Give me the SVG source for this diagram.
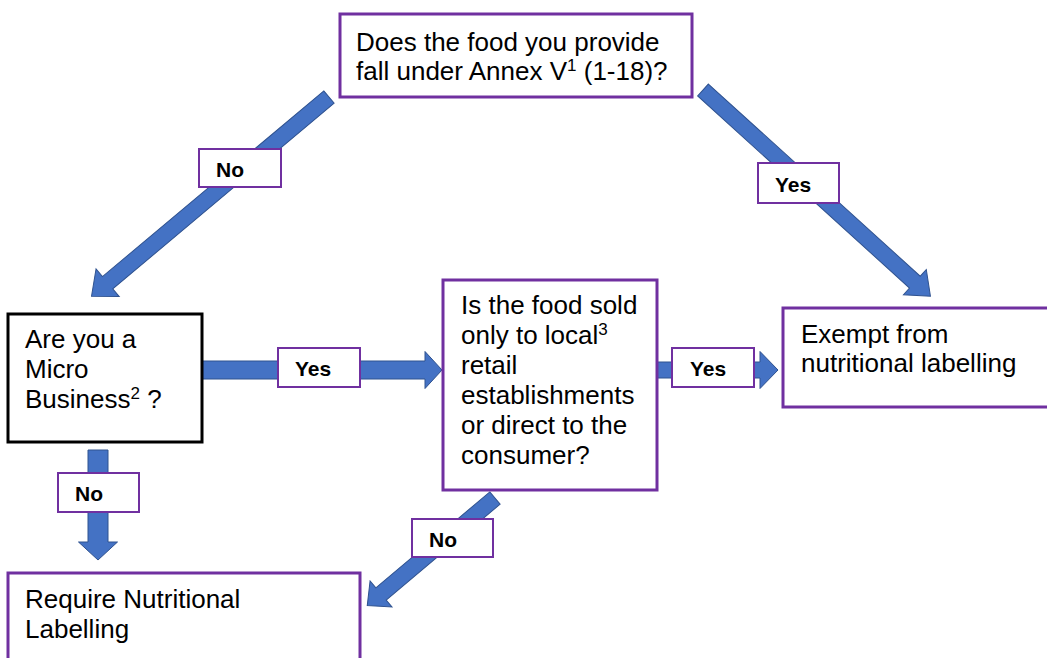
<svg xmlns="http://www.w3.org/2000/svg" width="1047" height="658" viewBox="0 0 1047 658">
<style>
.box{fill:#fff;stroke:#7030A0;stroke-width:3}
.bbox{fill:#fff;stroke:#000;stroke-width:3}
.lbl{fill:#fff;stroke:#7030A0;stroke-width:2}
.arr{fill:#4472C4;stroke:#2F528F;stroke-width:1}
.t{font-family:"Liberation Sans",Arial,sans-serif;font-size:26px;fill:#000}
.b{font-family:"Liberation Sans",Arial,sans-serif;font-size:21px;font-weight:bold;fill:#000}
.sup{font-size:17px}
</style>
<g id="connectors">
  <polygon class="arr" transform="translate(329,97) rotate(140)" points="0,-8 289,-8 289,-18 310,0 289,18 289,8 0,8"/>
  <polygon class="arr" transform="translate(703,90) rotate(42.2)" points="0,-8 286,-8 286,-17 307,0 286,17 286,8 0,8"/>
  <polygon class="arr" transform="translate(200,370)" points="0,-9 225,-9 225,-18.5 242,0 225,18.5 225,9 0,9"/>
  <polygon class="arr" transform="translate(657,370)" points="0,-8 103,-8 103,-18.5 121,0 103,18.5 103,8 0,8"/>
  <polygon class="arr" transform="translate(98,450) rotate(90)" points="0,-10 92,-10 92,-19.5 110,0 92,19.5 92,10 0,10"/>
  <polygon class="arr" transform="translate(495,498) rotate(139.9)" points="0,-8 149,-8 149,-17 167,0 149,17 149,8 0,8"/>
  <g id="lbl-no1"><rect class="lbl" x="199" y="149" width="82" height="38"/><text class="b" x="216" y="177">No</text></g>
  <g id="lbl-yes1"><rect class="lbl" x="758" y="163" width="81" height="40"/><text class="b" x="775" y="192">Yes</text></g>
  <g id="lbl-yes2"><rect class="lbl" x="278" y="348" width="82" height="39"/><text class="b" x="295" y="376">Yes</text></g>
  <g id="lbl-yes3"><rect class="lbl" x="672" y="348" width="82" height="39"/><text class="b" x="690" y="376">Yes</text></g>
  <g id="lbl-no2"><rect class="lbl" x="58" y="473" width="81" height="39"/><text class="b" x="75" y="501">No</text></g>
  <g id="lbl-no3"><rect class="lbl" x="412" y="519" width="81" height="38"/><text class="b" x="429" y="547">No</text></g>
</g>
<g id="node-annex">
  <rect class="box" x="340" y="14" width="352" height="83"/>
  <text class="t" x="356" y="51">Does the food you provide</text>
  <text class="t" x="356" y="80">fall under Annex V<tspan class="sup" dy="-9">1</tspan><tspan dy="9"> (1-18)?</tspan></text>
</g>
<g id="node-micro">
  <rect class="bbox" x="8" y="314" width="194" height="128"/>
  <text class="t" x="25" y="348">Are you a</text>
  <text class="t" x="25" y="378">Micro</text>
  <text class="t" x="25" y="408">Business<tspan class="sup" dy="-9">2</tspan><tspan dy="9"> ?</tspan></text>
</g>
<g id="node-local">
  <rect class="box" x="443" y="280" width="214" height="210"/>
  <text class="t" x="461" y="314">Is the food sold</text>
  <text class="t" x="461" y="344">only to local<tspan class="sup" dy="-9">3</tspan></text>
  <text class="t" x="461" y="374">retail</text>
  <text class="t" x="461" y="404">establishments</text>
  <text class="t" x="461" y="434">or direct to the</text>
  <text class="t" x="461" y="464">consumer?</text>
</g>
<g id="node-exempt">
  <rect class="box" x="783" y="308" width="280" height="99"/>
  <text class="t" x="801" y="343">Exempt from</text>
  <text class="t" x="801" y="372">nutritional labelling</text>
</g>
<g id="node-require">
  <rect class="box" x="8" y="573" width="352" height="100"/>
  <text class="t" x="25" y="608">Require Nutritional</text>
  <text class="t" x="25" y="638">Labelling</text>
</g>
</svg>
